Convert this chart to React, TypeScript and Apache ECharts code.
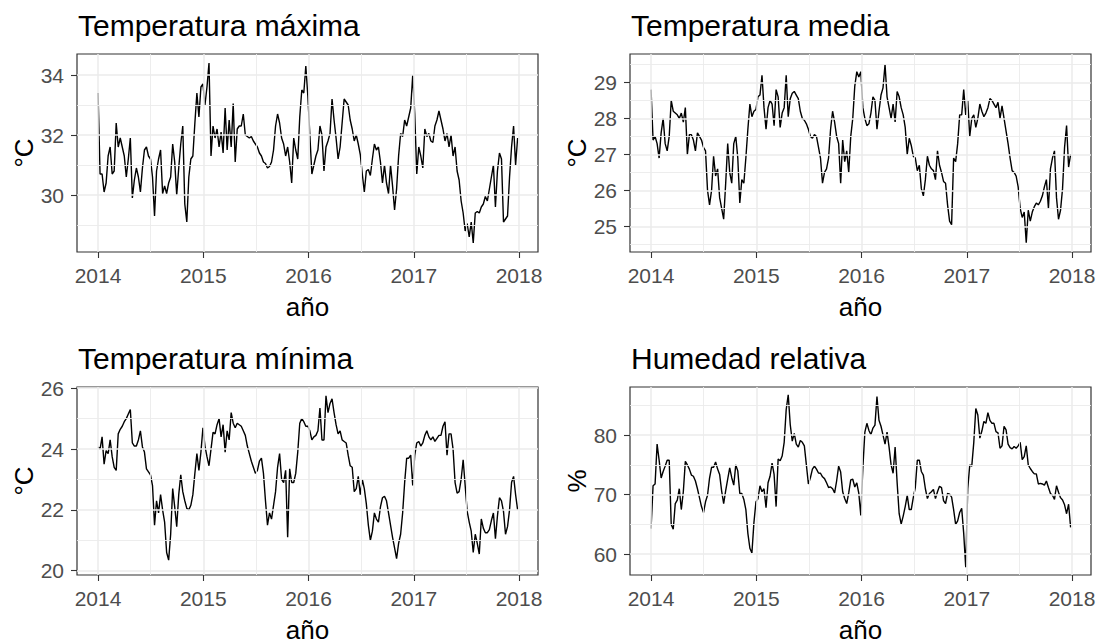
import React, { useEffect, useRef } from "react";
import * as echarts from "echarts";

// Weekly series, first week of 2014 to last week of 2017 (209 weeks)
const START_YEAR = 2014;
const WEEK_IN_YEARS = 7 / 365.25;

const tempMaxima: number[] = [
  33.4, 30.7, 30.7, 30.1, 30.4, 31.3, 31.6, 30.7, 30.8, 32.4,
  31.6, 31.9, 31.6, 31.3, 30.6, 31.2, 31.9, 29.9, 30.5, 30.9,
  30.6, 30.1, 30.9, 31.5, 31.6, 31.3, 31.2, 30.6, 29.3, 30.8,
  31.2, 31.5, 30.05, 30.3, 30.05, 30.4, 30.6, 31.7, 31.1, 30.0,
  30.9, 31.7, 32.3, 29.7, 29.1, 30.6, 31.2, 31.3, 32.4, 33.4,
  32.6, 33.6, 33.7, 33.0, 33.6, 34.4, 31.3, 32.3, 31.9, 32.2,
  31.6, 32.1, 31.4, 32.9, 31.5, 32.5, 31.6, 33.05, 31.1, 32.2,
  32.3, 32.3, 32.7, 32.0, 31.95, 31.9, 31.95, 31.8, 31.7, 31.6,
  31.4, 31.3, 31.1, 31.05, 30.9, 30.95, 31.1, 31.5, 32.3, 32.7,
  32.4, 31.9, 31.7, 31.3, 31.6, 31.1, 30.4, 31.9, 31.5, 31.2,
  32.6, 33.5, 33.4, 34.3,
  33.3, 32.0, 30.7, 31.0, 31.3, 31.5, 32.3, 32.0, 30.8, 31.6,
  31.8, 32.05, 33.2, 32.5, 31.9, 31.2, 31.6, 32.4, 33.2, 33.1,
  33.0, 32.5, 32.2, 31.8, 32.0, 31.7, 31.35, 30.7, 30.1, 30.8,
  30.85, 30.65, 31.2, 31.7, 31.5, 31.6, 31.1, 30.4, 31.0, 30.4,
  30.05, 31.0, 30.3, 29.5, 30.2, 31.3, 32.05, 31.95, 32.5, 32.3,
  32.6, 32.9, 34.0, 32.7, 30.7, 31.6, 31.3, 30.9, 32.2, 31.95,
  32.05, 31.8, 31.75, 32.3, 32.5, 32.8, 32.5, 32.2, 31.8, 32.05,
  31.6, 32.0, 31.3, 31.6, 30.8, 30.5, 29.8, 29.4, 28.8, 29.05,
  28.6, 29.1, 28.4, 29.4, 29.45, 29.4, 29.6, 29.7, 29.95, 29.8,
  30.2, 30.6, 31.0, 29.6, 30.8, 31.4, 31.2, 29.1, 29.2, 29.3,
  30.6, 31.6, 32.3, 31.0, 31.9,
];

const tempMedia: number[] = [
  28.8, 27.4, 27.5, 27.3, 26.9, 27.6, 28.0, 27.3, 27.1, 27.5,
  28.5, 28.2, 28.15, 28.1, 28.0, 28.15, 27.9, 28.3, 27.0, 27.55,
  27.55, 27.4, 27.1, 27.6, 27.5, 27.4, 27.2, 27.1, 26.0, 25.6,
  26.0, 26.95, 26.4, 26.6, 25.8, 25.5, 25.2, 26.2, 27.3, 26.5,
  26.2, 27.3, 27.5, 26.9, 25.65, 26.3, 26.2, 26.9, 27.7, 28.4,
  28.05, 28.2, 28.25, 28.6, 28.65, 29.2, 28.3, 27.7, 28.3, 28.5,
  28.4, 27.8, 28.8, 28.6, 27.75, 28.15, 28.3, 29.2, 28.05, 28.55,
  28.7, 28.75, 28.65, 28.55, 28.2, 28.0, 27.95, 27.85, 27.7, 27.5,
  27.45, 27.55, 27.5, 27.2, 26.9, 26.2, 26.5, 26.6, 26.9, 27.7,
  28.2, 27.9, 27.5, 27.3, 26.2, 27.4, 26.8, 27.1, 26.5, 27.5,
  28.0, 28.9, 29.3, 29.15,
  29.3, 28.3, 28.0, 27.8, 27.85, 28.15, 28.6, 28.5, 27.7, 28.2,
  28.65, 28.85, 29.5, 28.6, 28.3, 28.0, 28.4, 27.9, 28.75, 28.6,
  28.3, 28.1, 27.75, 27.0, 27.45, 27.25, 26.95, 26.9, 26.55, 26.7,
  26.05, 25.85, 26.3, 26.95, 26.7, 26.6, 26.55, 26.3, 27.1, 26.7,
  26.5, 26.25, 26.2, 25.6, 25.15, 25.05, 26.9, 26.8, 27.3, 28.1,
  28.1, 28.8, 28.1, 28.5, 27.5, 28.0, 28.1, 27.75, 28.0, 28.4,
  28.2, 28.05, 28.15, 28.3, 28.55, 28.5, 28.4, 28.3, 28.45, 28.0,
  28.35, 28.0, 27.65, 27.3, 26.9, 26.55, 26.5, 26.4, 26.1, 25.5,
  25.25, 25.4, 24.55, 25.45, 25.15, 25.4, 25.55, 25.65, 25.6, 25.7,
  25.85, 26.1, 26.3, 25.5, 26.6, 26.9, 27.1, 25.8, 25.2, 25.45,
  26.05, 27.2, 27.8, 26.65, 27.0,
];

const tempMinima: number[] = [
  24.07, 24.0, 24.4, 23.5, 23.95, 23.85, 24.3, 23.75, 23.4, 23.3,
  24.5, 24.65, 24.75, 24.9, 25.0, 25.15, 25.3, 24.2, 24.1, 24.1,
  24.3, 24.6, 24.07, 23.9, 23.35, 23.25, 23.15, 22.8, 21.5, 22.3,
  21.9, 22.5, 22.0, 21.6, 20.6, 20.35, 21.2, 22.7, 22.1, 21.45,
  22.5, 23.15, 22.6, 22.3, 22.05, 22.0, 22.15, 22.5, 23.2, 23.85,
  23.3, 23.9, 24.7, 24.1, 23.75, 23.45, 24.0, 24.55, 24.5, 24.8,
  25.0, 24.4, 24.8, 23.9, 24.6, 24.3, 25.2, 24.85, 24.7, 24.85,
  24.8, 24.75, 24.6, 24.45, 24.1, 23.85, 23.6, 23.4, 23.2, 23.3,
  23.6, 23.7, 23.2, 22.3, 21.5, 21.9, 21.7, 22.15, 22.6, 23.4,
  23.85, 23.0, 22.9, 23.3, 21.1, 23.35, 22.9, 22.9, 23.2, 23.9,
  24.85, 25.0, 24.9, 24.75,
  24.75, 24.6, 24.3, 24.4, 24.45, 24.6, 25.35, 24.3, 24.3, 25.75,
  25.2, 25.5, 25.65, 25.2, 24.8, 24.5, 24.6, 24.3, 24.25, 24.2,
  23.8, 23.45, 23.4, 22.6, 22.7, 23.1, 22.5, 23.0, 22.7, 22.2,
  21.5, 21.0, 21.3, 21.9, 21.7, 21.6, 22.1, 22.4, 22.45, 22.3,
  21.9, 21.5, 21.1, 20.75, 20.4, 20.9, 21.2, 21.9, 22.9, 23.7,
  23.7, 23.8, 22.8, 23.8, 24.2, 24.25, 24.1, 24.2, 24.45, 24.6,
  24.4, 24.3, 24.4, 24.25, 24.35, 24.45, 24.45, 24.75, 24.9, 23.8,
  24.5, 24.5, 24.0, 22.9, 22.55, 22.6, 23.0, 23.65, 22.8, 21.95,
  21.6, 21.3, 20.6, 21.2, 20.9, 20.55, 21.7, 21.4, 21.25, 21.25,
  21.35, 21.65, 21.9, 21.05, 21.8, 22.4, 22.3, 21.95, 21.2, 21.45,
  22.0, 22.9, 23.1, 22.5, 22.0,
];

const humedad: number[] = [
  64.3, 71.5, 71.8, 78.5, 75.8, 72.8, 73.9, 74.8, 75.8, 75.8,
  65.0, 64.2, 68.5, 69.1, 71.0, 67.5, 70.5, 75.6, 75.0, 74.3,
  73.3, 73.1, 72.3, 71.0, 69.5, 68.0, 67.0, 68.8, 69.9, 72.8,
  74.6, 74.6, 75.5, 74.3, 73.4, 70.6, 68.5, 70.7, 72.6, 74.5,
  72.85, 71.6, 75.0, 74.0, 70.2, 70.2, 69.2, 67.5, 63.5, 61.0,
  60.2, 65.3, 68.8, 69.3, 71.5, 70.5, 71.0, 67.8, 72.0, 73.1,
  75.3, 73.4, 68.0, 76.0, 75.7, 76.5, 78.8, 84.3, 86.8, 81.8,
  79.0, 80.3, 78.5, 78.0, 79.1, 78.8, 78.2, 75.0, 71.8, 72.85,
  74.3, 74.8, 74.3, 73.65, 73.6, 73.0, 72.7, 72.0, 71.2, 71.3,
  71.0, 70.3, 72.3, 74.8, 73.8, 70.5, 69.35, 68.5, 70.3, 72.5,
  72.6, 71.3, 72.0, 70.2,
  66.5, 74.5, 80.5, 82.0, 80.8, 80.1, 81.2, 81.7, 86.5, 82.5,
  81.5, 80.0, 78.5, 80.5, 78.0, 75.0, 73.6, 78.0, 72.0, 66.8,
  65.05, 66.4, 68.0, 69.9, 67.5, 67.5, 69.5, 71.2, 75.8, 75.8,
  73.9, 73.3, 71.0, 69.35, 70.2, 70.5, 70.9, 69.35, 70.5, 71.4,
  71.2, 69.0, 68.5, 70.2, 70.1, 69.6, 67.5, 65.0, 65.6, 67.0,
  67.7, 63.5, 57.8, 71.0, 75.0, 74.8, 78.8, 84.5, 83.4, 79.5,
  80.7, 82.3, 82.0, 83.8, 82.5, 82.0, 82.0, 80.6, 80.4, 77.8,
  78.2, 81.5, 80.9, 78.5, 77.9, 77.7, 78.1, 77.8, 78.2, 78.8,
  75.9, 76.4, 78.2, 75.0, 74.4, 73.9, 73.5, 73.5, 71.8, 71.9,
  71.8, 71.6, 72.3, 71.2, 70.2, 69.9, 69.2, 71.5, 70.4, 69.5,
  69.1, 68.3, 66.8, 68.4, 64.5,
];

const titles: string[] = ["Temperatura máxima", "Temperatura media", "Temperatura mínima", "Humedad relativa"];
const yUnits: string[] = ["°C", "°C", "°C", "%"];
const xTitle = "año";

const yearTicks: number[] = [2014, 2015, 2016, 2017, 2018];
const yearMinor: number[] = [2014.5, 2015.5, 2016.5, 2017.5];

const yTicksMax: number[] = [30, 32, 34];
const yMinorMax: number[] = [29, 31, 33];
const yTicksMedia: number[] = [25, 26, 27, 28, 29];
const yMinorMedia: number[] = [24.5, 25.5, 26.5, 27.5, 28.5, 29.5];
const yTicksMin: number[] = [20, 22, 24, 26];
const yMinorMin: number[] = [21, 23, 25];
const yTicksHum: number[] = [60, 70, 80];
const yMinorHum: number[] = [65, 75, 85];

const FONT = "'Liberation Sans', Arial, Helvetica, sans-serif";

export default function App() {
  const ref = useRef<HTMLDivElement>(null);

  useEffect(() => {
    if (!ref.current) return;
    const chart = echarts.init(ref.current, undefined, { renderer: "svg" });

    const panels = [
      { values: tempMaxima, yMin: 28.1, yMax: 34.7, major: yTicksMax, minor: yMinorMax, left: 77, top: 54, height: 198 },
      { values: tempMedia, yMin: 24.29, yMax: 29.79, major: yTicksMedia, minor: yMinorMedia, left: 630, top: 54, height: 198 },
      { values: tempMinima, yMin: 19.86, yMax: 26.04, major: yTicksMin, minor: yMinorMin, left: 77, top: 387, height: 196 },
      { values: humedad, yMin: 56.5, yMax: 88.1, major: yTicksHum, minor: yMinorHum, left: 630, top: 387, height: 196 },
    ];

    const grid: any[] = [];
    const xAxis: any[] = [];
    const yAxis: any[] = [];
    const series: any[] = [];
    const title: any[] = [];

    panels.forEach((p, k) => {
      grid.push({
        left: p.left,
        top: p.top,
        width: 461,
        height: p.height,
        show: true,
        backgroundColor: "#ffffff",
        borderColor: "#333333",
        borderWidth: 1.2,
        containLabel: false,
      });
      title.push({
        text: titles[k],
        left: p.left + 1,
        top: p.top - 44,
        padding: 0,
        textStyle: { fontSize: 30, fontWeight: "normal", color: "#000000", fontFamily: FONT },
      });
      xAxis.push({
        type: "value",
        gridIndex: k,
        min: 2013.8,
        max: 2018.18,
        axisLine: { show: false },
        axisTick: { show: true, length: 6, customValues: yearTicks, lineStyle: { color: "#333333", width: 1.1 } },
        axisLabel: {
          customValues: yearTicks,
          color: "#4D4D4D",
          fontSize: 21,
          margin: 13,
          fontFamily: FONT,
          formatter: (v: number) => String(v),
        },
        splitLine: { show: false },
        name: xTitle,
        nameLocation: "middle",
        nameGap: 42,
        nameTextStyle: { fontSize: 26, color: "#000000", fontFamily: FONT },
      });
      yAxis.push({
        type: "value",
        gridIndex: k,
        min: p.yMin,
        max: p.yMax,
        axisLine: { show: false },
        axisTick: { show: true, length: 6, customValues: p.major, lineStyle: { color: "#333333", width: 1.1 } },
        axisLabel: {
          customValues: p.major,
          color: "#4D4D4D",
          fontSize: 21,
          margin: 13,
          fontFamily: FONT,
          formatter: (v: number) => String(v),
        },
        splitLine: { show: false },
        name: yUnits[k],
        nameLocation: "middle",
        nameRotate: 90,
        nameGap: 40,
        nameTextStyle: { fontSize: 26, color: "#000000", fontFamily: FONT },
      });
      const gridLines: any[] = [];
      yearTicks.forEach((v) => gridLines.push({ xAxis: v, lineStyle: { width: 1.5 } }));
      yearMinor.forEach((v) => gridLines.push({ xAxis: v, lineStyle: { width: 0.9 } }));
      p.major.forEach((v) => gridLines.push({ yAxis: v, lineStyle: { width: 1.5 } }));
      p.minor.forEach((v) => gridLines.push({ yAxis: v, lineStyle: { width: 0.9 } }));
      series.push({
        type: "line",
        xAxisIndex: k,
        yAxisIndex: k,
        data: [],
        silent: true,
        z: 1,
        markLine: {
          silent: true,
          symbol: ["none", "none"],
          label: { show: false },
          lineStyle: { color: "#EBEBEB", type: "solid" },
          emphasis: { disabled: true },
          data: gridLines,
        },
      });
      series.push({
        type: "line",
        xAxisIndex: k,
        yAxisIndex: k,
        data: p.values.map((v, i) => [START_YEAR + i * WEEK_IN_YEARS, v]),
        showSymbol: false,
        symbol: "none",
        silent: true,
        z: 3,
        lineStyle: { color: "#000000", width: 1.4 },
      });
    });

    chart.setOption({
      animation: false,
      backgroundColor: "#ffffff",
      textStyle: { fontFamily: FONT },
      title,
      grid,
      xAxis,
      yAxis,
      series,
    });

    return () => chart.dispose();
  }, []);

  return (
    <div
      ref={ref}
      style={{ position: "absolute", left: 0, top: 0, width: 1103, height: 644 }}
    />
  );
}
